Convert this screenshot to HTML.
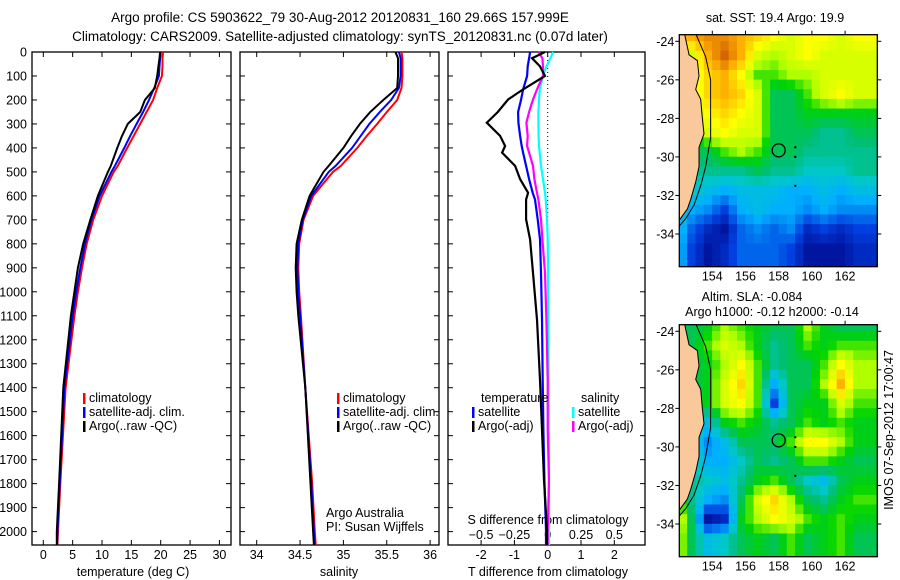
<!DOCTYPE html>
<html><head><meta charset="utf-8">
<style>
body{margin:0;background:#fff;}
svg{display:block;font-family:"Liberation Sans",sans-serif;}
text{fill:#000;}
</style></head>
<body>
<svg id="fig" width="900" height="580" viewBox="0 0 900 580" xmlns="http://www.w3.org/2000/svg">
<text x="340" y="22" font-size="13.5" text-anchor="middle">Argo profile: CS 5903622_79 30-Aug-2012 20120831_160 29.66S 157.999E</text>
<text x="340" y="41" font-size="13.5" text-anchor="middle">Climatology: CARS2009. Satellite-adjusted climatology: synTS_20120831.nc (0.07d later)</text>
<g id="p1"></g>
<g id="p2"></g>
<g id="p3"></g>
<g id="m1"></g>
<g id="m2"></g>
<text x="775" y="22" font-size="12.5" text-anchor="middle">sat. SST: 19.4 Argo: 19.9</text>
<text x="752" y="301" font-size="12.5" text-anchor="middle">Altim. SLA: -0.084</text>
<text x="772" y="316" font-size="12.5" text-anchor="middle">Argo h1000: -0.12 h2000: -0.14</text>
<text transform="translate(893,430) rotate(-90)" font-size="12.5" text-anchor="middle">IMOS 07-Sep-2012 17:00:47</text>
</svg>
<script>
// ---- data ----
const depthTicks=[0,100,200,300,400,500,600,700,800,900,1000,1100,1200,1300,1400,1500,1600,1700,1800,1900,2000];
const tempTicks=[0,5,10,15,20,25,30];
const salTicks=[34,34.5,35,35.5,36];
const tdTicks=[-2,-1,0,1,2];
const sdTicks=[-0.5,-0.25,0,0.25,0.5];
const sdTickLabels=["\u22120.5","\u22120.25","0","0.25","0.5"];
const depths=[0,26,60,100,150,200,250,300,350,400,475,500,600,700,800,900,1000,1100,1400,1800,2000,2056];
const argoT=[19.9,19.8,19.6,19.4,19.0,17.3,16.5,14.4,13.4,12.6,11.5,11.0,9.3,8.0,6.8,5.9,5.3,4.7,3.4,2.7,2.3,2.3];
const climT=[20.4,20.3,20.3,20.2,19.4,18.7,17.6,16.5,15.4,14.3,12.7,12.0,10.0,8.5,7.4,6.6,5.9,5.3,3.8,2.9,2.5,2.4];
const satT=[20.0,19.9,19.8,19.7,18.9,18.0,17.0,15.9,14.8,13.8,12.2,11.6,9.6,8.2,7.1,6.3,5.6,5.0,3.6,2.8,2.4,2.35];
const argoS=[35.6,35.63,35.63,35.63,35.62,35.46,35.31,35.19,35.09,35.0,34.83,34.77,34.61,34.52,34.46,34.45,34.46,34.48,34.56,34.62,34.65,34.66];
const climS=[35.67,35.68,35.68,35.68,35.67,35.62,35.5,35.39,35.27,35.16,34.97,34.88,34.65,34.54,34.49,34.48,34.49,34.51,34.56,34.64,34.67,34.68];
const satS=[35.64,35.66,35.66,35.66,35.64,35.55,35.42,35.3,35.2,35.1,34.91,34.83,34.63,34.53,34.48,34.47,34.48,34.5,34.56,34.63,34.66,34.67];
const dDepths=[0,26,60,100,156,198,250,295,350,392,420,475,530,587,615,698,782,921,1116,1368,1576,1785,1993,2056];
const argoTd=[-0.08,-0.47,-0.23,-0.08,-0.74,-1.19,-1.5,-1.83,-1.43,-1.28,-1.37,-0.98,-0.83,-0.59,-0.65,-0.65,-0.53,-0.44,-0.32,-0.23,-0.17,-0.11,-0.02,-0.02];
const satTd=[-0.53,-0.56,-0.6,-0.62,-0.74,-0.8,-0.89,-0.88,-0.83,-0.78,-0.74,-0.65,-0.56,-0.45,-0.38,-0.3,-0.23,-0.2,-0.17,-0.15,-0.13,-0.1,-0.05,-0.05];
const argoSd=[-0.07,-0.04,-0.035,-0.035,-0.08,-0.11,-0.14,-0.16,-0.15,-0.155,-0.14,-0.11,-0.1,-0.08,-0.07,-0.05,-0.04,-0.02,-0.01,0.0,0.0,0.01,0.0,0.0];
const satSd=[0.04,0.02,-0.01,-0.035,-0.06,-0.065,-0.07,-0.07,-0.068,-0.065,-0.06,-0.05,-0.035,-0.02,-0.015,-0.005,0.0,0.002,0.003,0.006,0.008,0.01,0.01,0.01];
const mapLons=[152,153,154,155,156,157,158,159,160,161,162,163];
const mapLats=[-24,-25,-26,-27,-28,-29,-30,-31,-32,-33,-34,-35];
const sstGrid=[
[.85,.85,.9,.9,.85,.8,.75,.7,.75,.75,.7,.75],
[.7,.7,.85,.95,.85,.7,.65,.7,.75,.7,.7,.7],
[.7,.7,.8,.85,.75,.6,.6,.65,.65,.7,.7,.7],
[.7,.7,.8,.85,.8,.7,.5,.5,.6,.7,.75,.7],
[.65,.65,.75,.8,.75,.7,.5,.5,.55,.55,.55,.55],
[.55,.55,.7,.75,.7,.7,.5,.5,.5,.45,.45,.5],
[.55,.5,.5,.6,.65,.6,.5,.5,.45,.45,.45,.45],
[.45,.45,.45,.45,.45,.5,.45,.45,.4,.4,.4,.45],
[.4,.4,.35,.3,.35,.35,.35,.3,.3,.35,.3,.35],
[.45,.3,.25,.15,.3,.35,.3,.3,.25,.3,.25,.25],
[.4,.2,.1,.05,.2,.25,.2,.25,.1,.15,.1,.15],
[.4,.15,.05,.1,.2,.2,.2,.15,.05,.05,.05,.1]];
const slaGrid=[
[.5,.5,.55,.65,.6,.55,.5,.5,.65,.55,.5,.5],
[.5,.5,.6,.7,.65,.55,.45,.5,.6,.55,.6,.6],
[.5,.5,.55,.65,.75,.6,.45,.5,.5,.6,.75,.65],
[.5,.5,.55,.7,.8,.6,.3,.5,.5,.65,.85,.65],
[.55,.55,.55,.7,.75,.6,.15,.5,.55,.55,.7,.6],
[.5,.5,.35,.55,.6,.55,.45,.5,.6,.55,.6,.55],
[.4,.4,.25,.35,.5,.5,.5,.6,.75,.75,.65,.55],
[.5,.45,.3,.3,.4,.5,.45,.5,.6,.6,.55,.5],
[.55,.45,.4,.35,.45,.55,.6,.5,.4,.35,.5,.55],
[.65,.45,.3,.25,.5,.7,.8,.65,.5,.45,.55,.6],
[.8,.5,.05,.1,.55,.65,.75,.7,.6,.55,.6,.55],
[.75,.5,.35,.4,.5,.55,.5,.6,.5,.55,.6,.5]];
const mapLonTicks=[154,156,158,160,162];
const mapLatTicks=[-24,-26,-28,-30,-32,-34];
const argoPos=[157.999,-29.66];

// ---- helpers ----
const NS="http://www.w3.org/2000/svg";
function el(parent,tag,attrs,txt){const e=document.createElementNS(NS,tag);for(const k in attrs)e.setAttribute(k,attrs[k]);if(txt!==undefined)e.textContent=txt;parent.appendChild(e);return e;}
const Y0=52,Y1=545;
const yD=d=>Y0+d*0.2398;

function frame(g,x0,x1,name){
  const r=el(g,'rect',{x:x0,y:Y0,width:x1-x0,height:Y1-Y0,fill:'none',stroke:'#000','stroke-width':1.3});
  
  
  depthTicks.forEach(d=>{
    el(g,'line',{x1:x0,x2:x0+5,y1:yD(d),y2:yD(d),stroke:'#000'});
    el(g,'line',{x1:x1-5,x2:x1,y1:yD(d),y2:yD(d),stroke:'#000'});
  });
}
function xTicks(g,ticks,labels,fx,ly,name,top){
  ticks.forEach((t,i)=>{
    const x=fx(t);
    el(g,'line',{x1:x,x2:x,y1:Y1,y2:Y1-5,stroke:'#000'});
    if(top) el(g,'line',{x1:x,x2:x,y1:Y0,y2:Y0+5,stroke:'#000'});
    const tx=el(g,'text',{x:x,y:ly,'font-size':12.5,'text-anchor':'middle'},labels[i]);
    
    
  });
}
function line(g,xs,ds,fx,color,w,name){
  const pts=xs.map((v,i)=>fx(v).toFixed(1)+','+yD(ds[i]).toFixed(1)).join(' ');
  const p=el(g,'polyline',{points:pts,fill:'none',stroke:color,'stroke-width':w,'stroke-linejoin':'miter'});
  
  
}
function legend(g,x,y,color,label,name){
  el(g,'rect',{x:x,y:y-9,width:2.5,height:11,fill:color});
  const t=el(g,'text',{x:x+6,y:y,'font-size':12.5},label);
  
  
}

// ---- panel 1: temperature ----
const p1=document.getElementById('p1');
const xT=t=>43.3+t*5.87;
frame(p1,32,231,'temperature');
depthTicks.forEach(d=>{const t=el(p1,'text',{x:27,y:yD(d)+4.5,'font-size':12.5,'text-anchor':'end'},String(d));
  
  });
xTicks(p1,tempTicks,tempTicks.map(String),xT,559,'temperature',true);
const tt=el(p1,'text',{x:133,y:576,'font-size':12.5,'text-anchor':'middle'},'temperature (deg C)');

line(p1,climT,depths,xT,'#ff0000',2,'temp-climatology-line');
line(p1,satT,depths,xT,'#0000ff',2,'temp-satellite-line');
line(p1,argoT,depths,xT,'#000',2,'temp-argo-line');
legend(p1,83,402,'#ff0000','climatology','legend-climatology');
legend(p1,83,416,'#0000ff','satellite-adj. clim.','legend-satellite-adj');
legend(p1,83,430,'#000','Argo(..raw -QC)','legend-argo');

// ---- panel 2: salinity ----
const p2=document.getElementById('p2');
const xS=s=>256.7+(s-34)*86.7;
frame(p2,240,439,'salinity');
xTicks(p2,salTicks,salTicks.map(String),xS,559,'salinity',true);
const st=el(p2,'text',{x:339,y:576,'font-size':12.5,'text-anchor':'middle'},'salinity');

line(p2,climS,depths,xS,'#ff0000',2,'sal-climatology-line');
line(p2,satS,depths,xS,'#0000ff',2,'sal-satellite-line');
line(p2,argoS,depths,xS,'#000',2,'sal-argo-line');
legend(p2,337,402,'#ff0000','climatology','legend-climatology-2');
legend(p2,337,416,'#0000ff','satellite-adj. clim.','legend-satellite-adj-2');
legend(p2,337,430,'#000','Argo(..raw -QC)','legend-argo-2');
const a1=el(p2,'text',{x:326,y:517,'font-size':12.5},'Argo Australia');
const a2=el(p2,'text',{x:326,y:531,'font-size':12.5},'PI: Susan Wijffels');

// ---- panel 3: differences ----
const p3=document.getElementById('p3');
const xTd=v=>547.7+v*33.3;
const xSd=v=>547.7+v*133.2;
frame(p3,448,645,'difference');
xTicks(p3,tdTicks,tdTicks.map(String),xTd,559,'t-diff',false);
sdTicks.forEach((t,i)=>{const x=xSd(t);el(p3,'line',{x1:x,x2:x,y1:Y0,y2:Y0+5,stroke:'#000'});
  const tx=el(p3,'text',{x:x,y:539,'font-size':12.5,'text-anchor':'middle'},sdTickLabels[i]);
  });
const s1=el(p3,'text',{x:548,y:524,'font-size':12.5,'text-anchor':'middle'},'S difference from climatology');
const s2=el(p3,'text',{x:548,y:576,'font-size':12.5,'text-anchor':'middle'},'T difference from climatology');
el(p3,'line',{x1:xTd(0),x2:xTd(0),y1:Y0,y2:yD(1100),stroke:'#000','stroke-dasharray':'1,3'});
line(p3,satSd,dDepths,xSd,'#00ffff',2.2,'sdiff-satellite-line');
line(p3,argoSd,dDepths,xSd,'#ff00ff',2.2,'sdiff-argo-line');
line(p3,satTd,dDepths,xTd,'#0000ff',2.2,'tdiff-satellite-line');
line(p3,argoTd,dDepths,xTd,'#000',2.2,'tdiff-argo-line');
const lt=el(p3,'text',{x:481,y:402,'font-size':12.5},'temperature');
const ls=el(p3,'text',{x:581,y:402,'font-size':12.5},'salinity');
legend(p3,472,416,'#0000ff','satellite','legend-t-satellite');
legend(p3,472,430,'#000','Argo(-adj)','legend-t-argo');
legend(p3,572,416,'#00ffff','satellite','legend-s-satellite');
legend(p3,572,430,'#ff00ff','Argo(-adj)','legend-s-argo');

// ---- maps ----
const cstops=[[0,[0,0,128]],[.15,[0,64,224]],[.3,[0,176,255]],[.4,[0,200,200]],[.47,[0,190,120]],[.52,[0,200,60]],[.57,[0,212,0]],[.65,[176,255,0]],[.75,[255,255,0]],[.85,[255,176,0]],[1,[192,64,0]]];
function cmap(v){for(let i=1;i<cstops.length;i++){if(v<=cstops[i][0]){const a=cstops[i-1],b=cstops[i];const f=(v-a[0])/(b[0]-a[0]);return 'rgb('+a[1].map((c,k)=>Math.round(c+(b[1][k]-c)*f)).join(',')+')';}}return 'rgb(192,64,0)';}
function drawMap(id,top,grid,labY,name){
  const g=document.getElementById(id);
  const L=679.3,R=877.3,B=top+232;
  const lat24=top+6.6;
  const fx=lon=>712.3+(lon-154)*16.6;
  const fy=lat=>lat24+(-24-lat)*19.27;
  const cg=el(g,'g',{});
  cg.setAttribute('clip-path','url(#clip'+id+')');
  const cp=el(el(g,'defs',{}),'clipPath',{id:'clip'+id});
  el(cp,'rect',{x:L,y:top,width:R-L,height:B-top});
  el(cg,'rect',{x:L,y:top,width:R-L,height:B-top,fill:cmap(0.5)});
  const nR=grid.length,nC=grid[0].length;
  grid.forEach((row,r)=>row.forEach((v,c)=>{
    const x0=fx(mapLons[c]-0.5),y0=fy(mapLats[r]+0.5);
    const lastC=(c===nC-1),lastR=(r===nR-1);
    const cell=el(cg,'rect',{x:x0-0.2,y:y0-0.2,width:16.6/2+0.5,height:19.27/2+0.5,fill:cmap(v)});
    
    
    const nb=(row[c+1]!==undefined?row[c+1]:v);
    const dn=(grid[r+1]?grid[r+1][c]:v);
    const dnb=(grid[r+1]&&grid[r+1][c+1]!==undefined?grid[r+1][c+1]:(grid[r+1]?dn:nb));
    const wR=lastC?20:8.8, hB=lastR?20:10.1;
    el(cg,'rect',{x:x0+8.3-0.2,y:y0-0.2,width:wR,height:10.1,fill:cmap((v+nb)/2)});
    el(cg,'rect',{x:x0-0.2,y:y0+9.6-0.2,width:8.8,height:hB,fill:cmap((v+dn)/2)});
    el(cg,'rect',{x:x0+8.3-0.2,y:y0+9.6-0.2,width:wR,height:hB,fill:cmap((v+nb+dn+dnb)/4)});
  }));
  const land=[[151.5,-23.5],[152.3,-23.5],[152.6,-24.7],[153.1,-25.0],[153.2,-25.8],[153.0,-26.5],[153.3,-27.0],[153.4,-28.0],[153.5,-28.8],[153.2,-29.5],[153.2,-30.5],[153.0,-31.3],[152.7,-32.2],[152.5,-32.7],[152.0,-33.3],[151.5,-33.5]];
  const lp=el(cg,'polygon',{points:land.map(p=>fx(p[0])+','+fy(p[1])).join(' '),fill:'#f9c89b',stroke:'#000','stroke-width':1});
  
  const cont=[[153.0,-23.6],[153.6,-24.8],[153.9,-26.0],[153.9,-27.5],[153.9,-29.0],[153.6,-30.5],[153.3,-31.5],[152.9,-32.5],[152.4,-33.2],[152.0,-33.6]];
  el(cg,'polyline',{points:cont.map(p=>fx(p[0])+','+fy(p[1])).join(' '),fill:'none',stroke:'#000','stroke-width':1});
  const mk=el(cg,'circle',{cx:fx(argoPos[0]),cy:fy(argoPos[1]),r:6.5,fill:'none',stroke:'#000','stroke-width':1.3});
  
  [[159,-29.5],[159,-30.0],[159,-31.5]].forEach(p=>el(cg,'rect',{x:fx(p[0])-1,y:fy(p[1])-1,width:2,height:2,fill:'#000'}));
  const fr=el(g,'rect',{x:L,y:top,width:R-L,height:B-top,fill:'none',stroke:'#000','stroke-width':1.3});
  
  mapLonTicks.forEach(lon=>{const x=fx(lon);el(g,'line',{x1:x,x2:x,y1:top,y2:top-4,stroke:'#000'});
    const t=el(g,'text',{x:x,y:B+14,'font-size':12.5,'text-anchor':'middle'},String(lon));});
  mapLatTicks.forEach(lat=>{const y=fy(lat);el(g,'line',{x1:L,x2:L-4,y1:y,y2:y,stroke:'#000'});el(g,'line',{x1:R,x2:R+4,y1:y,y2:y,stroke:'#000'});
    const t=el(g,'text',{x:L-5,y:y+4.5,'font-size':12.5,'text-anchor':'end'},String(lat));});
}
drawMap('m1',34.7,sstGrid,0,'sst-map');
drawMap('m2',324.7,slaGrid,0,'sla-map');
</script>
</body></html>
